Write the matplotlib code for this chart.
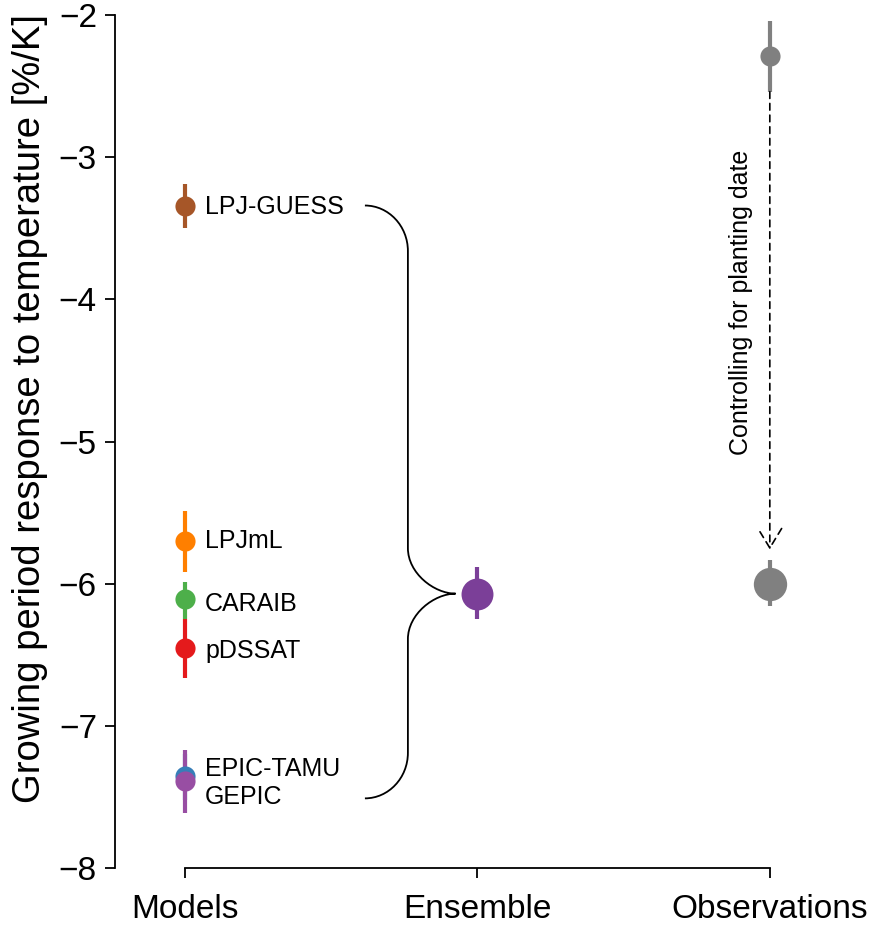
import matplotlib
matplotlib.use("Agg")
import matplotlib.pyplot as plt
from matplotlib.path import Path
from matplotlib.patches import PathPatch

plt.rcParams['font.family'] = ['Liberation Sans', 'DejaVu Sans']

# Individual crop models: estimate with lower/upper uncertainty bounds
model_names = ["LPJ-GUESS", "LPJmL", "CARAIB", "pDSSAT", "EPIC-TAMU", "GEPIC"]
model_values = [-3.34, -5.70, -6.11, -6.45, -7.35, -7.39]
model_lower = [-3.50, -5.92, -6.25, -6.66, -7.52, -7.61]
model_upper = [-3.19, -5.49, -5.99, -6.25, -7.20, -7.17]
model_colors = ["#a65628", "#ff7f00", "#4daf4a", "#e41a1c", "#377eb8", "#984ea3"]

# Multi-model ensemble
ensemble_value = -6.07
ensemble_lower = -6.25
ensemble_upper = -5.88

# Observations: raw and controlled for planting date
obs_raw_value = -2.29
obs_raw_lower = -2.54
obs_raw_upper = -2.04
obs_ctrl_value = -6.00
obs_ctrl_lower = -6.16
obs_ctrl_upper = -5.83

categories = ["Models", "Ensemble", "Observations"]
yticks = [-8, -7, -6, -5, -4, -3, -2]

fig = plt.figure(figsize=(8.69, 9.26), dpi=100)
ax = fig.add_axes([0.1323, 0.0626, 0.8343, 0.9212])

def point(ax, x, val, lo, hi, color, ms, lw=3.0):
    ax.plot([x, x], [lo, hi], color=color, lw=lw, solid_capstyle='butt', zorder=2)
    ax.plot([x], [val], 'o', color=color, ms=ms, mec='none', zorder=3)

for name, v, lo, hi, c in zip(model_names, model_values, model_lower, model_upper, model_colors):
    point(ax, 0, v, lo, hi, c, 14.5)

# label positions: nudge the two overlapping bottom models apart
label_offsets = {"LPJ-GUESS": -0.01, "CARAIB": -0.03, "pDSSAT": -0.02,
                 "EPIC-TAMU": 0.045, "GEPIC": -0.11}
for name, v in zip(model_names, model_values):
    ax.text(0.068, v + label_offsets.get(name, 0.0), name, fontsize=18,
            va='center', ha='left')

point(ax, 1, ensemble_value, ensemble_lower, ensemble_upper, "#7b3f98", 23)
point(ax, 2, obs_raw_value, obs_raw_lower, obs_raw_upper, "#808080", 14.5)
point(ax, 2, obs_ctrl_value, obs_ctrl_lower, obs_ctrl_upper, "#808080", 24)

# curly brace joining the model spread to the ensemble estimate
x0, xv, xt = 0.615, 0.762, 0.925
ytop = model_values[0]
ybot = -7.51
ym = ensemble_value
ry = 0.32
k = 0.55
verts = [
    (x0, ytop),
    (x0 + k * (xv - x0), ytop), (xv, ytop - (1 - k) * ry), (xv, ytop - ry),
    (xv, ym + ry),
    (xv, ym + (1 - k) * ry), (xv + k * (xt - xv), ym), (xt, ym),
    (xv + k * (xt - xv), ym), (xv, ym - (1 - k) * ry), (xv, ym - ry),
    (xv, ybot + ry),
    (xv, ybot + (1 - k) * ry), (x0 + k * (xv - x0), ybot), (x0, ybot),
]
codes = [Path.MOVETO,
         Path.CURVE4, Path.CURVE4, Path.CURVE4,
         Path.LINETO,
         Path.CURVE4, Path.CURVE4, Path.CURVE4,
         Path.CURVE4, Path.CURVE4, Path.CURVE4,
         Path.LINETO,
         Path.CURVE4, Path.CURVE4, Path.CURVE4]
ax.add_patch(PathPatch(Path(verts, codes), fill=False, lw=1.3, ec='black', zorder=1))

# dashed arrow from raw to planting-date-controlled observation
ax.annotate("", xy=(2, -5.76), xytext=(2, obs_raw_lower),
            arrowprops=dict(arrowstyle='->,head_length=1.4,head_width=0.85',
                            ls=(0, (4, 3)), lw=1.2, color='black',
                            shrinkA=0, shrinkB=0))
ax.text(1.9, -4.02, "Controlling for planting date", rotation=90,
        fontsize=18, ha='center', va='center')

ax.set_xlim(-0.24, 2.24)
ax.set_ylim(-8, -2)
ax.set_xticks([0, 1, 2])
ax.set_xticklabels(categories)
ax.set_yticks(yticks)
ax.set_yticklabels([f"\u2212{abs(t)}" for t in yticks])
ax.tick_params(axis='both', labelsize=24, length=7, width=1.3, direction='out')
ax.tick_params(axis='y', pad=6)
ax.tick_params(axis='x', pad=12)
ax.set_ylabel("Growing period response to temperature [%/K]", fontsize=27.5)
ax.yaxis.set_label_coords(-0.093, 0.539)

for s in ['top', 'right']:
    ax.spines[s].set_visible(False)
for s in ['left', 'bottom']:
    ax.spines[s].set_linewidth(1.3)
ax.spines['bottom'].set_bounds(0, 2)
ax.spines['left'].set_bounds(-8, -2)

fig.savefig("out.png", dpi=100)
